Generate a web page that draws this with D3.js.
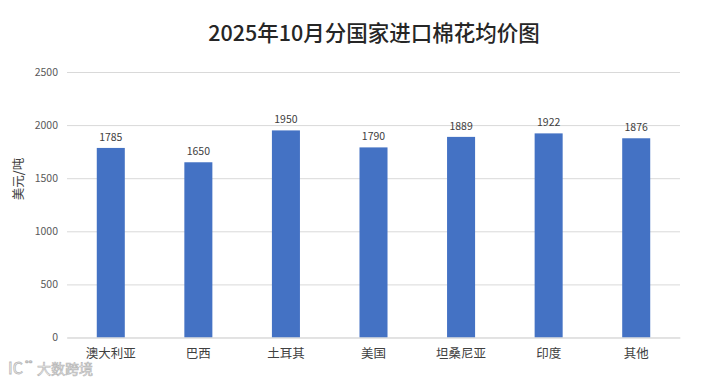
<!DOCTYPE html>
<html>
<head>
<meta charset="utf-8">
<script src="https://cdn.jsdelivr.net/npm/d3@7"></script>
<style>
  html, body { margin: 0; padding: 0; background: #fff; }
  text { font-family: "Noto Sans CJK SC", "Noto Sans", sans-serif; }
</style>
</head>
<body>
<div id="chart"></div>
<script>
const categories = ["澳大利亚", "巴西", "土耳其", "美国", "坦桑尼亚", "印度", "其他"];
const prices = [1785, 1650, 1950, 1790, 1889, 1922, 1876];
const yTicks = [0, 500, 1000, 1500, 2000, 2500];

const width = 708, height = 382;
const margin = {top: 72, right: 28, bottom: 44.5, left: 67};

const svg = d3.select("#chart").append("svg")
    .attr("width", width)
    .attr("height", height)
    .style("display", "block");

const x = d3.scaleBand()
    .domain(categories)
    .range([margin.left, width - margin.right])
    .paddingInner(0.68)
    .paddingOuter(0.34);

const y = d3.scaleLinear()
    .domain([0, 2500])
    .range([height - margin.bottom, margin.top]);

// gridlines and y labels
const yAxis = svg.append("g")
    .attr("transform", "translate(" + margin.left + ",0)")
    .call(d3.axisLeft(y).tickValues(yTicks).tickFormat(d3.format("d")).tickSize(-(width - margin.left - margin.right)).tickPadding(9));
yAxis.select(".domain").remove();
yAxis.selectAll("line").attr("stroke", "#d9d9d9");
yAxis.selectAll("text").attr("fill", "#595959").style("font-size", "10.5px");

// bars
svg.selectAll(".bar")
    .data(categories)
    .enter()
    .append("rect")
    .attr("class", "bar")
    .attr("x", d => x(d))
    .attr("y", (d, i) => y(prices[i]))
    .attr("width", x.bandwidth())
    .attr("height", (d, i) => y(0) - y(prices[i]))
    .attr("fill", "#4472c4");

// value labels
svg.selectAll(".value")
    .data(categories)
    .enter()
    .append("text")
    .attr("class", "value")
    .attr("x", d => x(d) + x.bandwidth() / 2)
    .attr("y", (d, i) => y(prices[i]) - 7)
    .attr("text-anchor", "middle")
    .attr("fill", "#404040")
    .style("font-size", "10.5px")
    .text((d, i) => prices[i]);

// x axis
const xAxis = svg.append("g")
    .attr("transform", "translate(0," + y(0) + ")")
    .call(d3.axisBottom(x).tickSize(0).tickPadding(12));
xAxis.select(".domain").attr("stroke", "#d9d9d9");
xAxis.selectAll("text").attr("fill", "#404040").style("font-size", "12.5px");

svg.append("text")
    .attr("x", 374)
    .attr("y", 41)
    .attr("text-anchor", "middle")
    .attr("fill", "#262626")
    .style("font-size", "21.5px")
    .style("font-weight", "500")
    .text("2025年10月分国家进口棉花均价图");

svg.append("text")
    .attr("transform", "translate(23,179) rotate(-90)")
    .attr("text-anchor", "middle")
    .attr("fill", "#404040")
    .style("font-size", "12.5px")
    .text("美元/吨");

// watermark
svg.append("text")
    .attr("x", 8)
    .attr("y", 374)
    .attr("fill", "#fff")
    .attr("stroke", "#b8b8b8")
    .attr("stroke-width", 0.8)
    .style("font-size", "16px")
    .text("IC");
svg.append("text")
    .attr("x", 25)
    .attr("y", 368)
    .attr("fill", "#fff")
    .attr("stroke", "#b8b8b8")
    .attr("stroke-width", 0.7)
    .style("font-size", "10px")
    .text("°°");
svg.append("text")
    .attr("x", 37)
    .attr("y", 374)
    .attr("fill", "#fff")
    .attr("stroke", "#b8b8b8")
    .attr("stroke-width", 0.7)
    .style("font-size", "14px")
    .text("大数跨境");
</script>
</body>
</html>
